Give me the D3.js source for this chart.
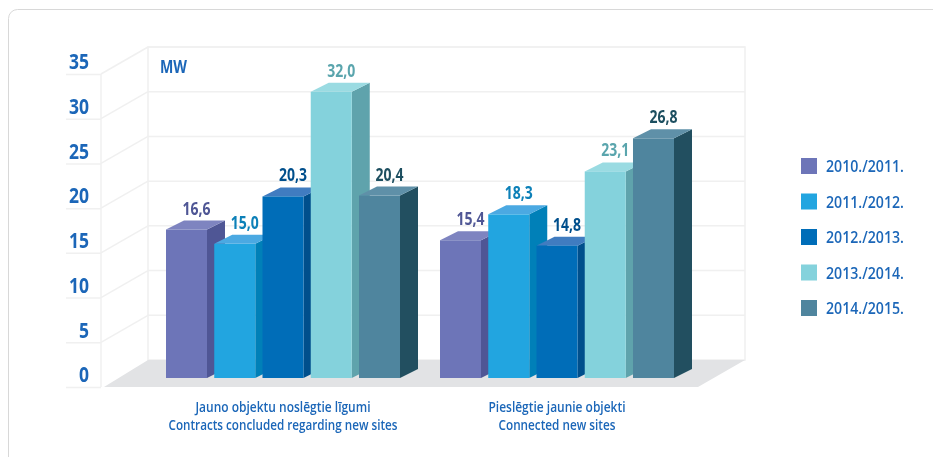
<!DOCTYPE html>
<html>
<head>
<meta charset="utf-8">
<script src="https://cdn.jsdelivr.net/npm/d3@7"></script>
<style>
html, body { margin: 0; padding: 0; background: #fff; overflow: hidden; }
svg { display: block; }
text { font-family: "Open Sans", sans-serif; }
</style>
</head>
<body>
<svg id="chart" width="933" height="457"></svg>
<script>
const categories = [
    ['Jauno objektu noslēgtie līgumi', 'Contracts concluded regarding new sites'],
    ['Pieslēgtie jaunie objekti', 'Connected new sites']
];
const seasons = ['2010./2011.', '2011./2012.', '2012./2013.', '2013./2014.', '2014./2015.'];
const contracts = [16.6, 15.0, 20.3, 32.0, 20.4];
const connected = [15.4, 18.3, 14.8, 23.1, 26.8];
const yTicks = [0, 5, 10, 15, 20, 25, 30, 35];

const frontColors = ['#6d75b8', '#22a5e0', '#006db8', '#84d2dc', '#4f859e'];
const sideColors = ['#4f5795', '#0580b8', '#004f8c', '#5fa3ac', '#214f60'];
const topColors = ['#7e84c0', '#4ba9e2', '#3f7bc0', '#9adbe2', '#5e90a8'];
const labelColors = ['#4f5795', '#0a80b8', '#004f8c', '#5aa5ad', '#1f4f60'];
const blue = '#1a66b8';

const svg = d3.select('#chart');

// soft edges, the source is a scaled up bitmap
svg.append('defs').append('filter')
    .attr('id', 'soft')
    .append('feGaussianBlur')
    .attr('stdDeviation', 0.35);

const root = svg.append('g').attr('filter', 'url(#soft)');

// outer card, runs off the right and bottom of the page
root.append('rect')
    .attr('x', 8.5).attr('y', 9.5)
    .attr('width', 960).attr('height', 480)
    .attr('rx', 9)
    .attr('fill', '#fff')
    .attr('stroke', '#d8d8d8');

// the wall and the front axis sit at different depths
const depth = {x: 47, y: 27};
const wallX = 148, wallRight = 745;
const yWall = d3.scaleLinear().domain([0, 35]).range([360, 47]);
const yFront = d3.scaleLinear().domain([0, 35]).range([387, 74]);
const yBar = d3.scaleLinear().domain([0, 35]).range([378, 65]);

const grid = root.append('g');

grid.append('path')
    .attr('d', `M${wallX},${yWall(35)}H${wallRight}V${yWall(0)}H${wallX}Z`)
    .attr('fill', '#fff')
    .attr('stroke', '#f0f0f0')
    .attr('stroke-width', 1.5);

grid.selectAll('.wall')
    .data(yTicks.slice(1))
    .join('line')
    .attr('x1', wallX).attr('x2', wallRight)
    .attr('y1', d => yWall(d)).attr('y2', d => yWall(d))
    .attr('stroke', '#f0f0f0')
    .attr('stroke-width', 1.5);

grid.selectAll('.side')
    .data(yTicks.slice(1))
    .join('line')
    .attr('x1', wallX - depth.x).attr('x2', wallX)
    .attr('y1', d => yFront(d)).attr('y2', d => yWall(d))
    .attr('stroke', '#f0f0f0')
    .attr('stroke-width', 1.5);

grid.append('line')
    .attr('x1', wallX - depth.x).attr('x2', wallX - depth.x)
    .attr('y1', yFront(35)).attr('y2', yFront(0))
    .attr('stroke', '#f0f0f0')
    .attr('stroke-width', 1.5);

// floor
root.append('path')
    .attr('d', `M${wallX},${yWall(0)}H${wallRight}L${wallRight - depth.x},${yFront(0)}H${wallX - depth.x + 3}Z`)
    .attr('fill', '#e2e3e5');

// y axis, numbers sit above their tick
const axis = d3.axisLeft(yFront)
    .tickValues(yTicks)
    .tickSize(35)
    .tickPadding(-23);

const axisGroup = root.append('g')
    .attr('transform', `translate(${wallX - depth.x},0)`)
    .call(axis);
axisGroup.select('.domain').remove();
axisGroup.selectAll('.tick line').attr('stroke', '#f0f0f0').attr('stroke-width', 1.5);
axisGroup.selectAll('.tick text')
    .attr('fill', blue)
    .attr('font-size', 21)
    .attr('font-weight', 700)
    .attr('text-anchor', 'end')
    .attr('x', -12)
    .attr('dy', '-0.25em')
    .attr('textLength', d => d < 10 ? 10 : 20)
    .attr('lengthAdjust', 'spacingAndGlyphs');

root.append('text')
    .attr('x', 160).attr('y', 73)
    .attr('fill', blue)
    .attr('font-size', 17)
    .attr('font-weight', 700)
    .attr('textLength', 27)
    .attr('lengthAdjust', 'spacingAndGlyphs')
    .text('MW');

// bars
const barStart = [166, 440];
const barX = d3.scaleBand().domain(d3.range(5)).range([0, 234]).paddingInner(0.15).paddingOuter(0).align(0);
const barW = barX.bandwidth();
const bar = {x: 18, y: 9};

const series = [contracts, connected];

series.forEach((values, g) => {
    const group = root.append('g').attr('transform', `translate(${barStart[g]},0)`);
    const items = group.selectAll('g')
        .data(values)
        .join('g');

    items.append('path')
        .attr('fill', (d, i) => sideColors[i])
        .attr('d', (d, i) => {
            const x = barX(i) + barW, t = yBar(d), b = yBar(0);
            return `M${x},${t}l${bar.x},${-bar.y}V${b - bar.y}L${x},${b}Z`;
        });
    items.append('path')
        .attr('fill', (d, i) => topColors[i])
        .attr('d', (d, i) => {
            const x = barX(i), t = yBar(d);
            return `M${x},${t}l${bar.x},${-bar.y}h${barW}l${-bar.x},${bar.y}Z`;
        });
    items.append('rect')
        .attr('fill', (d, i) => frontColors[i])
        .attr('x', (d, i) => barX(i))
        .attr('y', d => yBar(d))
        .attr('width', barW)
        .attr('height', d => yBar(0) - yBar(d));
    items.append('text')
        .attr('fill', (d, i) => labelColors[i])
        .attr('font-size', 18)
        .attr('font-weight', 700)
        .attr('text-anchor', 'middle')
        .attr('x', (d, i) => barX(i) + barW / 2 + 10)
        .attr('y', d => yBar(d) - 15)
        .attr('textLength', 28)
        .attr('lengthAdjust', 'spacingAndGlyphs')
        .text(d => d3.format('.1f')(d).replace('.', ','));
});

// category labels
const labelCentres = [283, 557];
const labelWidths = [[175, 229], [137, 117]];
categories.forEach((lines, g) => {
    lines.forEach((line, k) => {
        root.append('text')
            .attr('x', labelCentres[g])
            .attr('y', 412 + k * 18)
            .attr('text-anchor', 'middle')
            .attr('fill', blue)
            .attr('font-size', 14)
            .attr('font-weight', 600)
            .attr('textLength', labelWidths[g][k])
            .attr('lengthAdjust', 'spacingAndGlyphs')
            .text(line);
    });
});

// legend
const legendY = d3.scalePoint().domain(seasons).range([158, 300]);
const legend = root.append('g').selectAll('g')
    .data(seasons)
    .join('g')
    .attr('transform', d => `translate(801,${legendY(d)})`);
legend.append('rect')
    .attr('width', 16).attr('height', 16)
    .attr('fill', (d, i) => frontColors[i]);
legend.append('text')
    .attr('x', 25).attr('y', 14)
    .attr('fill', blue)
    .attr('font-size', 17)
    .attr('font-weight', 600)
    .attr('textLength', 78)
    .attr('lengthAdjust', 'spacingAndGlyphs')
    .text(d => d);
</script>
</body>
</html>
